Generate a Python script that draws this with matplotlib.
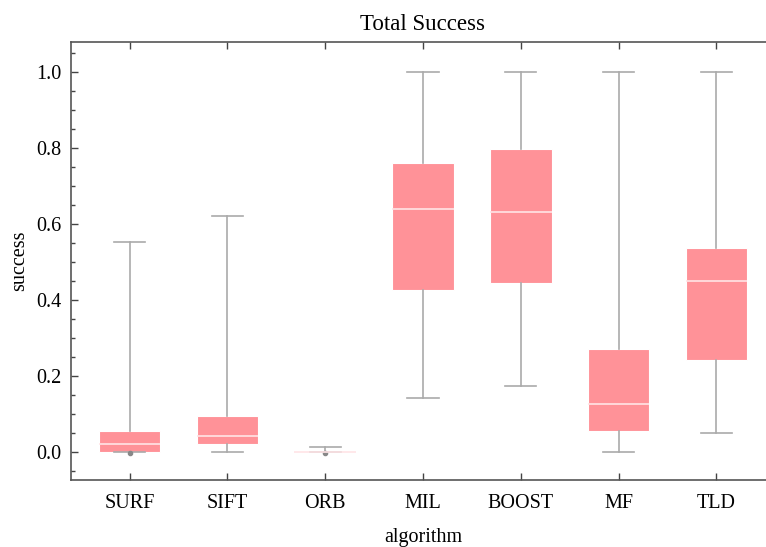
import matplotlib.pyplot as plt
from matplotlib.ticker import MultipleLocator

algorithms = ["SURF", "SIFT", "ORB", "MIL", "BOOST", "MF", "TLD"]
q1 = [0.000, 0.022, 0.000, 0.426, 0.445, 0.055, 0.242]
med = [0.020, 0.042, 0.000, 0.639, 0.632, 0.126, 0.450]
q3 = [0.055, 0.095, 0.000, 0.760, 0.797, 0.271, 0.537]
wlo = [0.000, 0.000, 0.000, 0.142, 0.174, 0.000, 0.050]
whi = [0.553, 0.621, 0.012, 1.000, 1.000, 1.000, 1.000]
fliers = [[-0.003], [], [-0.003], [], [], [], []]

plt.rcParams['font.family'] = ['Liberation Serif', 'DejaVu Serif']

stats = []
for i, name in enumerate(algorithms):
    stats.append({"label": name, "q1": q1[i], "med": med[i], "q3": q3[i],
                  "whislo": wlo[i], "whishi": whi[i], "fliers": fliers[i]})

fig = plt.figure(figsize=(7.66, 5.47), dpi=100)
ax = fig.add_axes([0.0927, 0.1225, 0.919, 0.8005])

ax.bxp(stats, positions=range(len(algorithms)), widths=0.63, capwidths=0.32,
       patch_artist=True,
       boxprops=dict(facecolor="#ff9298", edgecolor="white", linewidth=0.8),
       medianprops=dict(color="#ffe4e6", linewidth=1.2),
       whiskerprops=dict(color="#aaaaaa", linewidth=1.2),
       capprops=dict(color="#aaaaaa", linewidth=1.2),
       flierprops=dict(marker="o", markersize=3, markerfacecolor="#888888",
                       markeredgecolor="#888888"))

ax.set_xlim(-0.6, 6.6)
ax.set_ylim(-0.074, 1.079)
ax.yaxis.set_major_locator(MultipleLocator(0.2))
ax.yaxis.set_minor_locator(MultipleLocator(0.05))
ax.set_yticks([0.0, 0.2, 0.4, 0.6, 0.8, 1.0])
ax.set_yticklabels(["0.0", "0.2", "0.4", "0.6", "0.8", "1.0"])
ax.tick_params(axis="both", which="both", direction="in", top=True, right=False,
               labelsize=14.5, color="#444444")
ax.tick_params(axis="both", which="major", length=5, width=1)
ax.tick_params(axis="x", which="major", pad=10)
ax.tick_params(axis="y", which="major", pad=7)
ax.tick_params(axis="y", which="minor", length=3, width=1)
ax.tick_params(axis="x", which="minor", bottom=False, top=False)
for s in ax.spines.values():
    s.set_color("#555555")
    s.set_linewidth(1.2)

ax.set_xlabel("algorithm", fontsize=14.5, labelpad=11)
ax.set_ylabel("success", fontsize=14.5, labelpad=5)
ax.set_title("Total Success", fontsize=16.5, pad=9)

fig.savefig("out.png", dpi=100)
